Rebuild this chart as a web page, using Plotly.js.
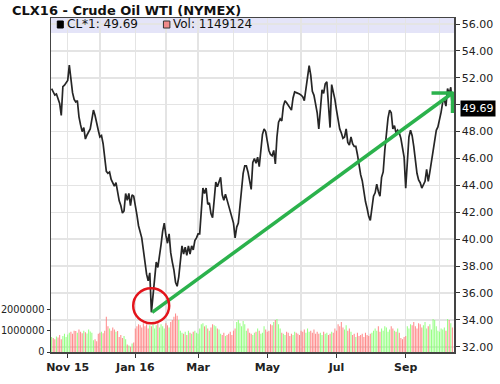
<!DOCTYPE html>
<html><head><meta charset="utf-8">
<script src="https://cdn.plot.ly/plotly-3.0.1.min.js"></script>
<style>html,body{margin:0;padding:0;background:#fff}#chart{width:500px;height:384px}</style>
</head><body><div id="chart"></div>
<script>
// ---- data ----
const firstDay = '2015-10-19';
const holidays = ['2015-11-26','2015-12-25','2016-01-01','2016-01-18','2016-02-15','2016-03-25','2016-05-30','2016-07-04','2016-09-05'];
const closes = [
 51.2,50.95,50.72,50.8,50.48,50.1,49.2,51.35,51.45,51.65,
 51.8,52.95,51.8,50.9,50.4,50.2,50.3,49.1,48.5,48.0,
 48.3,47.45,47.75,47.95,48.2,48.9,49.6,49.2,48.5,48.1,
 47.6,47.7,47.1,45.9,45.05,44.9,45.0,44.45,44.15,43.95,
 44.2,43.4,42.85,42.5,41.95,42.1,43.4,42.9,43.4,42.5,
 43.3,43.2,42.6,41.8,41.0,40.5,40.1,39.2,38.2,37.4,
 36.9,37.5,34.56,36.0,37.3,38.3,37.9,38.6,39.6,40.6,
 41.2,40.3,39.7,40.4,39.0,38.3,37.7,36.8,36.5,37.2,
 38.4,39.5,38.9,39.4,38.8,39.5,38.9,39.5,39.2,39.9,
 40.1,40.4,40.4,42.3,43.8,43.4,43.8,42.6,42.7,41.9,
 41.6,42.9,44.25,43.9,44.25,44.6,43.3,42.9,43.35,42.9,
 42.6,42.2,41.7,41.2,40.1,40.9,41.2,42.3,43.5,44.9,
 45.45,45.45,45.0,44.2,43.7,45.7,46.0,45.65,46.1,45.4,
 46.8,47.8,48.2,48.0,47.3,46.6,46.3,46.2,46.6,45.6,
 47.6,48.7,48.95,48.8,49.9,50.3,50.15,49.95,49.75,49.6,
 50.5,50.95,50.9,50.87,50.8,50.72,50.6,50.3,51.3,52.2,
 52.9,52.2,51.0,50.7,50.1,49.4,48.2,49.85,51.1,50.85,
 51.55,51.7,50.0,48.3,51.5,51.0,50.4,49.6,48.9,48.2,
 47.9,47.5,47.6,48.2,47.2,47.0,47.6,47.1,46.9,46.9,
 46.3,45.5,44.8,44.35,43.5,42.8,42.3,41.7,41.4,42.5,
 43.2,43.45,44.1,43.55,43.2,44.6,45.0,46.6,47.9,49.0,
 49.6,49.4,48.2,48.45,47.9,48.1,47.9,47.5,46.8,46.1,
 43.8,46.0,47.6,48.1,47.7,46.9,45.9,44.9,44.4,44.2,
 43.8,44.0,44.3,45.2,44.3,45.0,45.7,46.5,47.4,48.1,
 48.35,48.85,49.45,50.2,50.35,49.9,51.2,50.8,51.3,49.69
];
const volumesK = [
 700,650,600,720,680,800,600,750,850,700,820,
 900,950,850,1000,980,900,1050,950,880,1000,920,870,1050,960,900,
 550,600,500,850,900,
 950,880,1000,1650,
 1200,1100,1000,1150,1050,950,980,
 700,800,650,750,600,
 350,300,250,400,450,
 1100,1200,1300,1250,1150,1350,1200,1300,1100,1250,
 1200,1350,1100,1250,1400,1150,1300,1200,1100,1350,1250,1150,1400,1500,1650,1800,1700,1500,
 1000,900,850,950,800,1000,900,850,950,1000,900,850,
 1100,1300,1350,1200,1250,1100,1000,1150,1300,1250,1200,1100,1050,
 850,800,900,750,800,850,950,800,
 1000,1100,1400,1500,1350,1200,1450,1300,1000,1100,900,
 850,800,900,950,1100,1000,850,900,1200,1050,950,1000,
 1300,1250,1400,1500,1550,1300,1100,
 900,850,800,950,900,750,850,800,950,900,850,800,
 1000,950,1050,900,1100,950,1000,900,1050,850,950,
 850,900,800,950,850,900,800,850,950,900,
 1100,1000,1300,1200,1400,1150,1050,1250,1000,1100,950,
 800,850,700,900,750,800,850,700,900,800,750,850,900,1000,
 1100,1000,1200,950,1100,1000,1200,1150,950,1050,1200,1100,1000,950,1100,900,
 650,600,700,750,
 1200,1100,1300,1250,1400,1200,1100,1350,1300,1150,1250,1400,1100,1200,1300,1050,
 1550,1500,1200,
 1000,950,1100,1050,1150,1000,1550,1500,1350,1150
];
const tickDates = ['2015-11-02','2016-01-04','2016-03-01','2016-05-02','2016-07-01','2016-09-01'];
const tickLabels = ['Nov 15','Jan 16','Mar','May','Jul','Sep'];
const gridDates = ['2015-12-01','2016-02-01','2016-04-01','2016-06-01','2016-08-01','2016-10-03'];
const priceTicks = [32,34,36,38,40,42,44,46,48,50,52,54,56];
const volumeTicks = [0,1000000,2000000];
const lastPrice = 49.69;
const lastVolume = 1149124;
const symbolName = 'CL*1';
const trendFrom = ['2016-01-19 12:00', 34.56];
const trendTo = ['2016-10-13 02:00', 50.87];
const circleAt = ['2016-01-15 21:00', 35.05];

// ---- trading-day dates (weekdays, exchange holidays skipped) ----
function tradingDays(start, n) {
  const out = [];
  const d = new Date(start + 'T00:00:00Z');
  while (out.length < n) {
    const dow = d.getUTCDay();
    const s = d.toISOString().slice(0, 10);
    if (dow !== 0 && dow !== 6 && holidays.indexOf(s) < 0) out.push(s);
    d.setUTCDate(d.getUTCDate() + 1);
  }
  return out;
}
const dates = tradingDays(firstDay, closes.length);
const volumes = volumesK.map(v => v * 1000);
const barColors = closes.map((c, i) => (i === 0 || c >= closes[i - 1]) ? 'rgba(140,255,120,0.9)' : 'rgba(255,128,128,0.9)');

const green = '#2bb24c';
const font = 'DejaVu Sans';

const traces = [
  { type: 'bar', x: dates, y: volumes, yaxis: 'y', marker: { color: barColors, line: { width: 0 } }, hoverinfo: 'skip' },
  { type: 'scatter', mode: 'lines', x: dates, y: closes, yaxis: 'y2', line: { color: '#262626', width: 1.7 } }
];

const layout = {
  width: 500, height: 384,
  margin: { l: 51, r: 46, t: 18, b: 32 },
  paper_bgcolor: '#fff', plot_bgcolor: 'rgba(0,0,0,0)',
  showlegend: false, bargap: 0.35,
  title: { text: '<b>CLX16 - Crude Oil WTI (NYMEX)</b>', font: { family: font, size: 13, color: '#111' },
           xref: 'container', x: 0.024, xanchor: 'left', yref: 'container', y: 0.974, yanchor: 'middle', pad: { t: 0, b: 0, l: 0, r: 0 } },
  xaxis: {
    type: 'date', range: ['2015-10-16 15:00', '2016-10-14 00:00'],
    rangebreaks: [{ bounds: ['sat', 'mon'] }, { values: holidays }],
    tickmode: 'array', tickvals: tickDates, ticktext: tickLabels,
    ticks: 'outside', ticklen: 4, tickcolor: '#333',
    tickfont: { family: font, size: 11, color: '#222', weight: 'bold' },
    showgrid: true, gridcolor: '#e4e4e4', gridwidth: 1.5,
    minor: { tickmode: 'array', tickvals: gridDates, showgrid: true, gridcolor: '#e4e4e4', gridwidth: 1.5, ticks: '' },
    showline: true, linecolor: '#444', linewidth: 1.5, mirror: true, zeroline: false
  },
  yaxis: {
    range: [0, 15.64e6], tickmode: 'array', tickvals: volumeTicks, tickformat: 'd',
    ticks: 'outside', ticklen: 3, tickcolor: '#333',
    tickfont: { family: font, size: 9.8, color: '#222' },
    showgrid: false, zeroline: false, showline: true, linecolor: '#444', linewidth: 1.5
  },
  yaxis2: {
    overlaying: 'y', side: 'right', range: [31.61, 56.45],
    tickmode: 'array', tickvals: priceTicks, ticktext: priceTicks.map(v => v === 50 ? '' : v.toFixed(2)),
    ticks: 'outside', ticklen: 4, tickcolor: '#333',
    tickfont: { family: font, size: 11, color: '#222' },
    showgrid: true, gridcolor: '#e4e4e4', gridwidth: 1.5, zeroline: false,
    showline: true, linecolor: '#444', linewidth: 1.5
  },
  shapes: [
    { type: 'rect', xref: 'paper', yref: 'paper', x0: 0, x1: 1, y0: 0.955, y1: 1, fillcolor: '#e4e4f8', line: { width: 0 }, layer: 'below' },
    { type: 'rect', xref: 'paper', yref: 'paper', x0: 0.0156, x1: 0.0305, y0: 0.970, y1: 0.991, fillcolor: '#000', line: { color: '#000', width: 1 } },
    { type: 'rect', xref: 'paper', yref: 'paper', x0: 0.279, x1: 0.295, y0: 0.970, y1: 0.991, fillcolor: '#f08a8a', line: { color: '#333', width: 1 } },
    { type: 'line', xref: 'x', yref: 'y2', x0: trendFrom[0], y0: trendFrom[1], x1: trendTo[0], y1: trendTo[1], line: { color: green, width: 3.5 } },
    { type: 'line', xref: 'x', yref: 'y2', xsizemode: 'pixel', ysizemode: 'pixel', xanchor: trendTo[0], yanchor: trendTo[1],
      x0: -21, x1: 1, y0: 0, y1: 0, line: { color: green, width: 3.5 } },
    { type: 'line', xref: 'x', yref: 'y2', xsizemode: 'pixel', ysizemode: 'pixel', xanchor: trendTo[0], yanchor: trendTo[1],
      x0: 0, x1: 0, y0: 1, y1: -20, line: { color: green, width: 3.5 } },
    { type: 'circle', xref: 'x', yref: 'y2', xsizemode: 'pixel', ysizemode: 'pixel', xanchor: circleAt[0], yanchor: circleAt[1],
      x0: -18, x1: 18, y0: -17.5, y1: 17.5, line: { color: '#e3141b', width: 2.5 } }
  ],
  annotations: [
    { xref: 'paper', yref: 'paper', x: 0.034, y: 0.981, xanchor: 'left', yanchor: 'middle', showarrow: false,
      text: symbolName + ': ' + lastPrice.toFixed(2), font: { family: font, size: 12, color: '#111' } },
    { xref: 'paper', yref: 'paper', x: 0.297, y: 0.981, xanchor: 'left', yanchor: 'middle', showarrow: false,
      text: 'Vol: ' + lastVolume, font: { family: font, size: 12, color: '#111' } },
    { xref: 'paper', yref: 'y2', x: 1, y: lastPrice, xanchor: 'left', yanchor: 'middle', xshift: 6, showarrow: false,
      text: lastPrice.toFixed(2), bgcolor: '#000', borderpad: 1, font: { family: font, size: 11, color: '#fff' } }
  ]
};

Plotly.newPlot('chart', traces, layout, { displayModeBar: false, staticPlot: true });
</script>
</body></html>
